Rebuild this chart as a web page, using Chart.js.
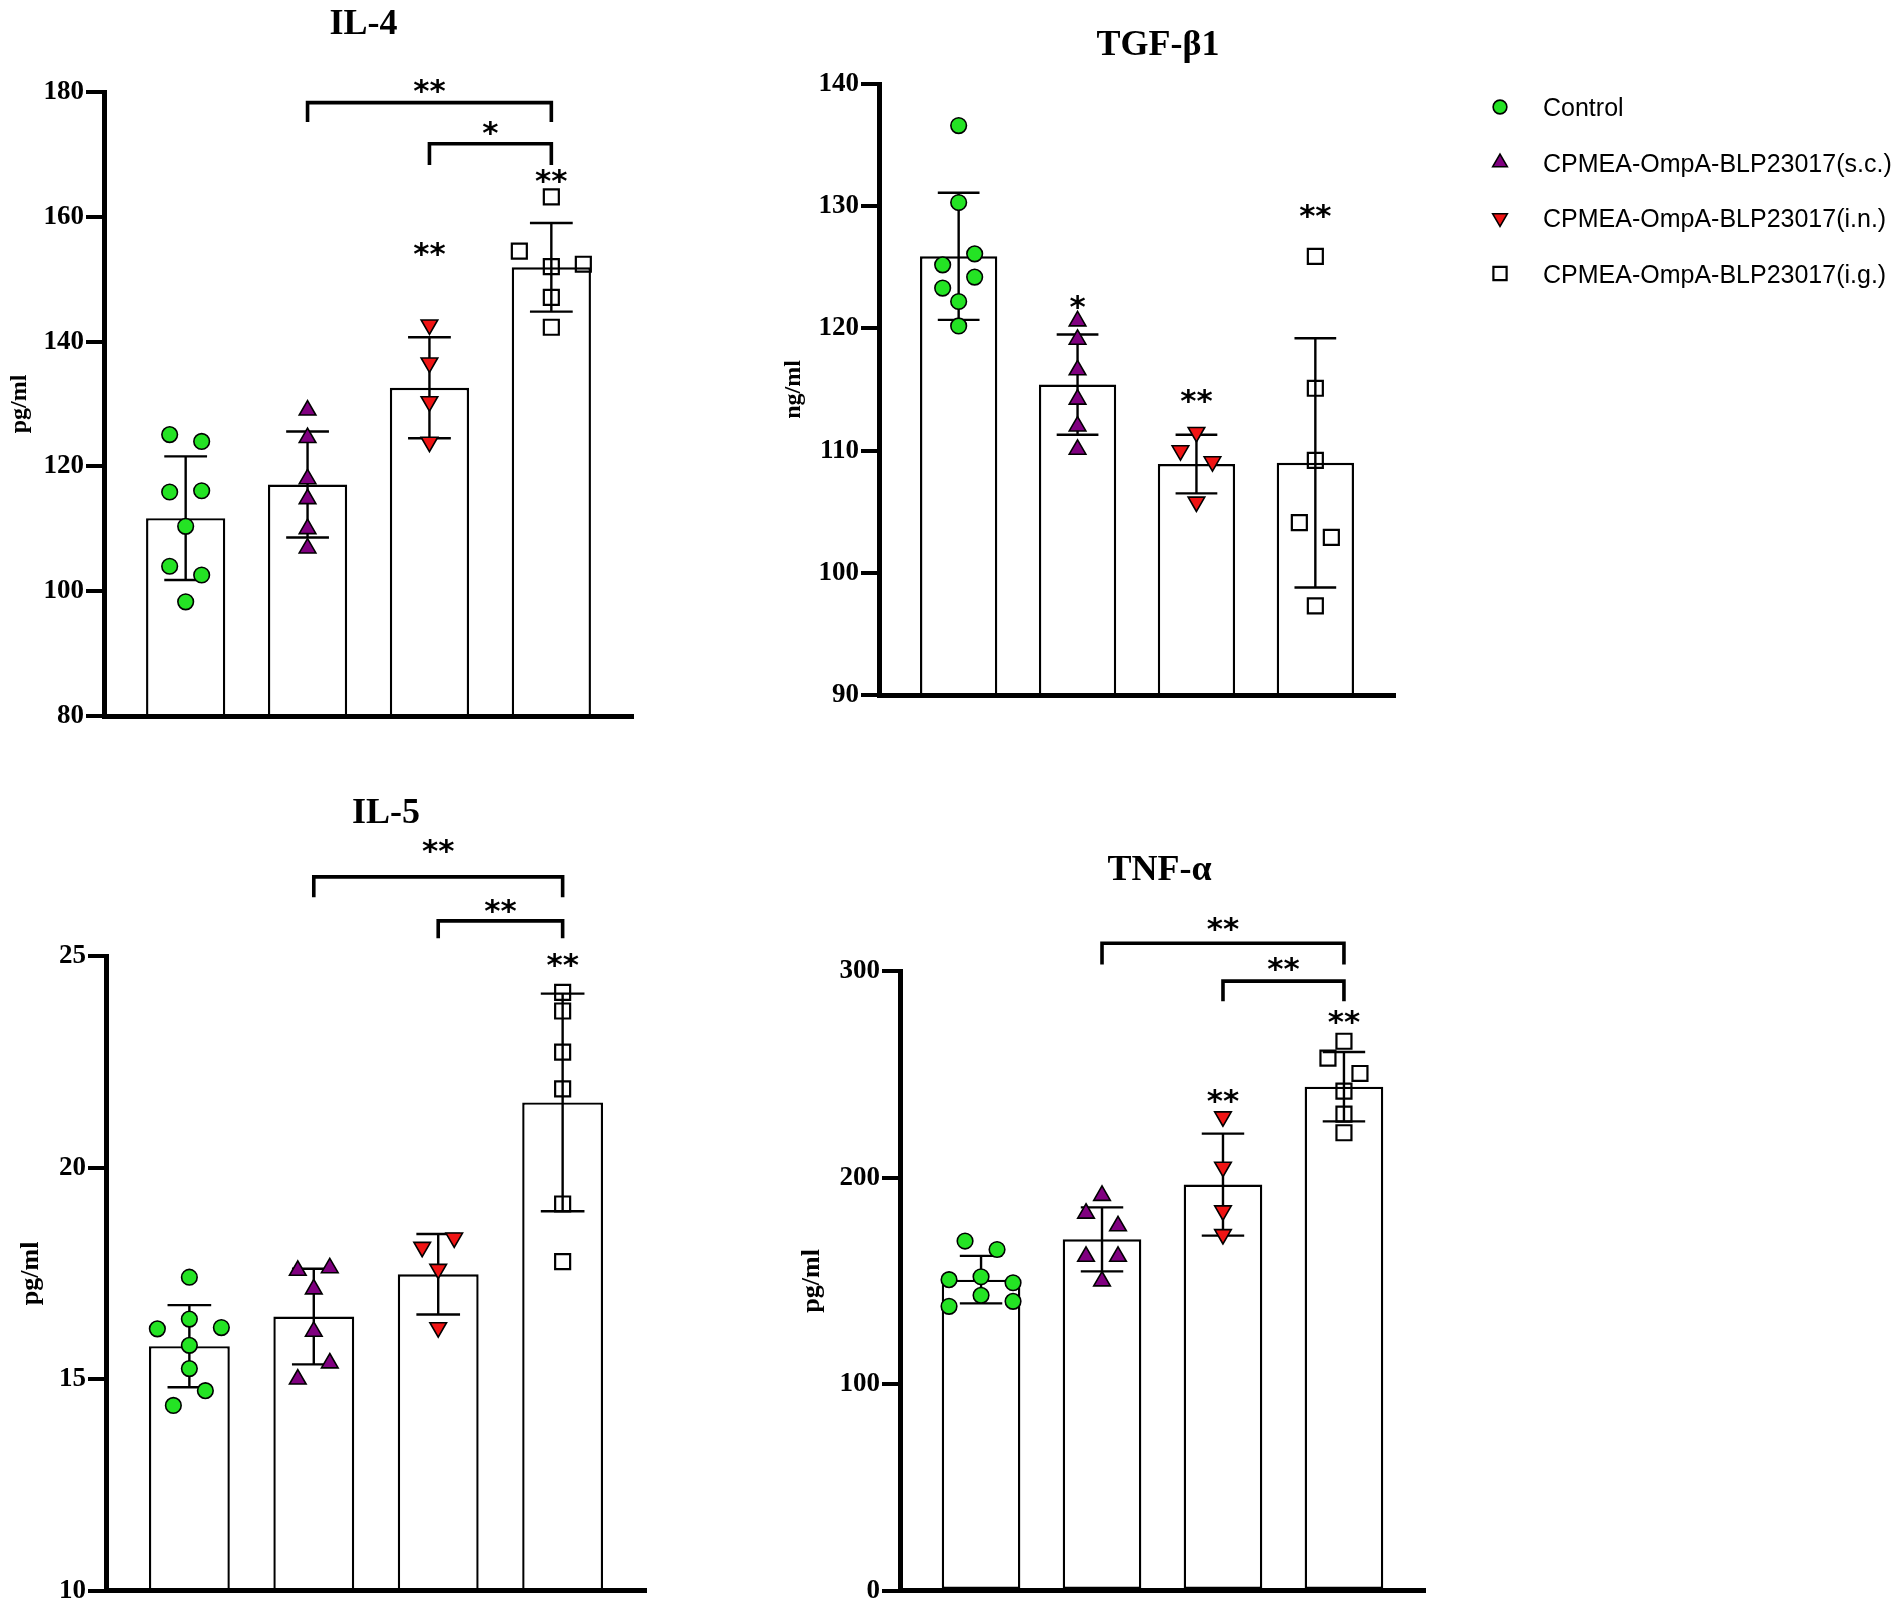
<!DOCTYPE html>
<html lang="en">
<head>
<meta charset="utf-8">
<title>IL-4, TGF-β1, IL-5, TNF-α</title>
<script src="https://cdn.jsdelivr.net/npm/chart.js@4.4.1/dist/chart.umd.min.js"></script>
<style>
html,body{margin:0;padding:0;background:#ffffff;}
#fig{position:relative;width:1902px;height:1609px;overflow:hidden;background:#ffffff;}
#fig canvas{position:absolute;display:block;}
</style>
</head>
<body>
<div id="fig">
<canvas id="c1"></canvas>
<canvas id="c2"></canvas>
<canvas id="c3"></canvas>
<canvas id="c4"></canvas>
</div>
<script>
// ---------------- data ----------------
const groups = ['Control', 'CPMEA-OmpA-BLP23017(s.c.)', 'CPMEA-OmpA-BLP23017(i.n.)', 'CPMEA-OmpA-BLP23017(i.g.)'];
const groupIndex = [0, 1, 2, 3];

// IL-4 (pg/ml)
const il4Control = [125.1, 124.0, 115.9, 116.1, 110.4, 104.0, 102.6, 98.3];
const il4SC = [129.0, 124.6, 118.0, 114.8, 110.0, 106.9];
const il4IN = [142.7, 136.6, 130.4, 123.9];
const il4IG = [163.2, 154.5, 152.0, 152.4, 147.1, 142.3];
const il4Mean = [111.7, 117.1, 132.6, 151.9];
const il4SD = [9.9, 8.5, 8.1, 7.1];
const il4Ticks = [80, 100, 120, 140, 160, 180];
const il4Stars = [[2, 154.8, '**'], [3, 166.5, '**']];
const il4Brackets = [[1, 3, 178.3, 175.2, 180.9, '**'], [2, 3, 171.7, 168.3, 174.1, '*']];

// TGF-β1 (ng/ml)
const tgfControl = [136.6, 130.3, 125.2, 126.1, 123.3, 124.2, 122.2, 120.2];
const tgfSC = [120.6, 119.1, 116.6, 114.2, 112.0, 110.1];
const tgfIN = [111.5, 110.0, 109.1, 105.8];
const tgfIG = [125.9, 115.1, 109.2, 104.1, 102.9, 97.3];
const tgfMean = [125.9, 115.4, 108.9, 109.0];
const tgfSD = [5.2, 4.1, 2.4, 10.2];
const tgfTicks = [90, 100, 110, 120, 130, 140];
const tgfStars = [[1, 122.1, '*'], [2, 114.4, '**'], [3, 129.6, '**']];
const tgfBrackets = [];

// IL-5 (pg/ml)
const il5Control = [17.41, 16.19, 16.42, 16.22, 15.8, 15.25, 14.38, 14.73];
const il5SC = [17.57, 17.63, 17.13, 16.13, 15.0, 15.38];
const il5IN = [18.12, 18.34, 17.6, 16.22];
const il5IG = [24.14, 23.7, 22.73, 21.86, 19.14, 17.78];
const il5Mean = [15.78, 16.48, 17.48, 21.54];
const il5SD = [0.97, 1.13, 0.95, 2.57];
const il5Ticks = [10, 15, 20, 25];
const il5Stars = [[3, 24.89, '**']];
const il5Brackets = [[1, 3, 26.87, 26.39, 27.58, '**'], [2, 3, 25.83, 25.42, 26.17, '**']];

// TNF-α (pg/ml)
const tnfControl = [169.3, 165.2, 150.6, 152.0, 149.1, 137.7, 143.0, 140.1];
const tnfSC = [191.3, 182.7, 176.6, 161.8, 161.8, 149.9];
const tnfIN = [229.5, 205.1, 184.0, 172.5];
const tnfIG = [266.0, 257.8, 250.4, 241.9, 230.7, 221.7];
const tnfMean = [150.6, 170.1, 196.6, 244.0];
const tnfSD = [11.5, 15.5, 24.7, 16.8];
const tnfTicks = [0, 100, 200, 300];
const tnfStars = [[2, 239.1, '**'], [3, 277.6, '**']];
const tnfBrackets = [[1, 3, 313.4, 303.2, 322.6, '**'], [2, 3, 295.1, 285.4, 303.2, '**']];

// ---------------- styles / layout ----------------
const STYLE = {
  pointStyle: ['circle', 'triangle', 'triangle', 'rect'],
  rotation: [0, 0, 180, 0],
  radius: [7.8, 9.6, 9.6, 10.6],
  fill: ['#24e324', '#800080', '#f01414', 'rgba(255,255,255,0)'],
  border: [1.6, 1.6, 1.6, 2.2]
};
const SERIF = '"Liberation Serif", "Times New Roman", serif';
const SANS = '"Liberation Sans", Arial, sans-serif';
const STAR_FONT = 'bold 31px "DejaVu Sans", sans-serif';
const SWARM_OVERLAP = 16.5;   // px: markers closer than this share a row
const SWARM_STEP = 32;        // px between columns inside a row

const panels = [
  { id: 'c1', title: 'IL-4', unit: 'pg/ml', values: [il4Control, il4SC, il4IN, il4IG], mean: il4Mean, sd: il4SD,
    ticks: il4Ticks, stars: il4Stars, brackets: il4Brackets,
    box: { left: 0, top: 0, w: 700, h: 760 }, pad: { left: 0, right: 67, top: 92, bottom: 44 },
    titleDx: -5, titleDy: -70, yTitleSize: 24, yTitlePad: 5.6, legend: false },
  { id: 'c2', title: 'TGF-β1', unit: 'ng/ml', values: [tgfControl, tgfSC, tgfIN, tgfIG], mean: tgfMean, sd: tgfSD,
    ticks: tgfTicks, stars: tgfStars, brackets: tgfBrackets,
    box: { left: 700, top: 0, w: 1202, h: 760 }, pad: { left: 75, right: 507, top: 84, bottom: 65 },
    titleDx: 21, titleDy: -41, yTitleSize: 24, yTitlePad: 4.6, legend: true },
  { id: 'c3', title: 'IL-5', unit: 'pg/ml', values: [il5Control, il5SC, il5IN, il5IG], mean: il5Mean, sd: il5SD,
    ticks: il5Ticks, stars: il5Stars, brackets: il5Brackets,
    box: { left: 0, top: 760, w: 700, h: 849 }, pad: { left: 2, right: 54, top: 196, bottom: 16 },
    titleDx: 10, titleDy: -145.5, yTitleSize: 26, yTitlePad: 13.4, legend: false },
  { id: 'c4', title: 'TNF-α', unit: 'pg/ml', values: [tnfControl, tnfSC, tnfIN, tnfIG], mean: tnfMean, sd: tnfSD,
    ticks: tnfTicks, stars: tnfStars, brackets: tnfBrackets,
    box: { left: 700, top: 760, w: 760, h: 849 }, pad: { left: 96, right: 35, top: 211, bottom: 15 },
    titleDx: -3, titleDy: -103, yTitleSize: 26, yTitlePad: 0.4, legend: false }
];

// ---------------- helpers ----------------
function textCentered(ctx, text, x, yc, font, refGlyph) {
  ctx.font = font;
  ctx.textAlign = 'center';
  ctx.textBaseline = 'alphabetic';
  const m = ctx.measureText(refGlyph || text);
  const asc = m.actualBoundingBoxAscent || 0, desc = m.actualBoundingBoxDescent || 0;
  ctx.fillText(text, x, yc + (asc - desc) / 2);
}

function drawMarker(ctx, g, x, y, scale) {
  const opts = { pointStyle: STYLE.pointStyle[g], rotation: STYLE.rotation[g],
                 radius: STYLE.radius[g] * scale, borderWidth: STYLE.border[g] };
  ctx.save();
  ctx.fillStyle = STYLE.fill[g];
  ctx.strokeStyle = '#000000';
  ctx.lineWidth = STYLE.border[g];
  if (Chart.helpers && Chart.helpers.drawPoint) {
    Chart.helpers.drawPoint(ctx, opts, x, y);
  } else {
    ctx.beginPath(); ctx.arc(x, y, opts.radius, 0, Math.PI * 2); ctx.fill(); ctx.stroke();
  }
  ctx.restore();
}

function swarmX(chart, g, vals) {
  const ys = chart.scales.y, xs = chart.scales.x;
  const pxPerX = Math.abs(xs.getPixelForValue(1) - xs.getPixelForValue(0));
  const rows = [];
  let cur = [];
  vals.forEach((v, k) => {
    const py = ys.getPixelForValue(v);
    if (cur.length && cur.every(o => Math.abs(o.py - py) < SWARM_OVERLAP)) {
      cur.push({ k, py });
    } else {
      if (cur.length) rows.push(cur);
      cur = [{ k, py }];
    }
  });
  if (cur.length) rows.push(cur);
  const out = new Array(vals.length);
  rows.forEach(r => r.forEach((o, j) => {
    out[o.k] = groupIndex[g] + (j - (r.length - 1) / 2) * SWARM_STEP / pxPerX;
  }));
  return out;
}

function makePlugin(panel) {
  return {
    id: 'figure_' + panel.id,
    afterDatasetDraw(chart, args) {
      if (args.index !== 0) return;
      const ctx = chart.ctx, ys = chart.scales.y;
      const meta = chart.getDatasetMeta(0);
      ctx.save();
      ctx.strokeStyle = '#000000';
      ctx.lineWidth = 2.4;
      panel.mean.forEach((m, i) => {
        const bar = meta.data[i];
        const x = bar.x, half = bar.width * 0.27;
        const yt = ys.getPixelForValue(m + panel.sd[i]);
        const yb = ys.getPixelForValue(m - panel.sd[i]);
        ctx.beginPath();
        ctx.moveTo(x, yt); ctx.lineTo(x, yb);
        ctx.moveTo(x - half, yt); ctx.lineTo(x + half, yt);
        ctx.moveTo(x - half, yb); ctx.lineTo(x + half, yb);
        ctx.stroke();
      });
      ctx.restore();
    },
    afterDraw(chart) {
      const ctx = chart.ctx, xs = chart.scales.x, ys = chart.scales.y, area = chart.chartArea;
      ctx.save();
      ctx.fillStyle = '#000000';
      ctx.strokeStyle = '#000000';
      // significance brackets
      ctx.lineWidth = 3.6;
      ctx.lineJoin = 'miter';
      ctx.lineCap = 'butt';
      panel.brackets.forEach(b => {
        const xa = xs.getPixelForValue(groupIndex[b[0]]), xb = xs.getPixelForValue(groupIndex[b[1]]);
        const yl = ys.getPixelForValue(b[2]), yg = ys.getPixelForValue(b[3]);
        ctx.beginPath();
        ctx.moveTo(xa, yg); ctx.lineTo(xa, yl); ctx.lineTo(xb, yl); ctx.lineTo(xb, yg);
        ctx.stroke();
        textCentered(ctx, b[5], (xa + xb) / 2, ys.getPixelForValue(b[4]), STAR_FONT, '*');
      });
      // stars above groups
      panel.stars.forEach(s => {
        textCentered(ctx, s[2], xs.getPixelForValue(groupIndex[s[0]]), ys.getPixelForValue(s[1]), STAR_FONT, '*');
      });
      // panel title
      textCentered(ctx, panel.title, (area.left + area.right) / 2 + panel.titleDx, area.top + panel.titleDy,
                   'bold 36px ' + SERIF, 'H');
      // legend
      if (panel.legend) {
        const mx = area.right + 105, tx = area.right + 148;
        groups.forEach((name, g) => {
          const y = area.top + 23 + g * 55.5;
          drawMarker(ctx, g, mx, y, 0.88);
          ctx.fillStyle = '#000000';
          ctx.font = '25px ' + SANS;
          ctx.textAlign = 'left';
          ctx.textBaseline = 'alphabetic';
          const m = ctx.measureText('C');
          ctx.fillText(name, tx, y + m.actualBoundingBoxAscent / 2);
        });
      }
      ctx.restore();
    }
  };
}

function buildPanel(panel) {
  const cv = document.getElementById(panel.id);
  cv.width = panel.box.w; cv.height = panel.box.h;
  cv.style.left = panel.box.left + 'px'; cv.style.top = panel.box.top + 'px';
  cv.style.width = panel.box.w + 'px'; cv.style.height = panel.box.h + 'px';

  const datasets = [{
    type: 'bar', label: 'Mean',
    data: panel.mean.map((m, i) => ({ x: groupIndex[i], y: m })),
    backgroundColor: '#ffffff', borderColor: '#000000', borderWidth: 2.4, borderSkipped: false,
    barPercentage: 0.65, categoryPercentage: 1, order: 10
  }];
  panel.values.forEach((vals, g) => datasets.push({
    type: 'scatter', label: groups[g],
    data: vals.map(v => ({ x: groupIndex[g], y: v })),
    pointStyle: STYLE.pointStyle[g], rotation: STYLE.rotation[g],
    pointRadius: STYLE.radius[g], pointHoverRadius: STYLE.radius[g],
    backgroundColor: STYLE.fill[g], borderColor: '#000000', borderWidth: STYLE.border[g],
    showLine: false, clip: false, order: 0
  }));

  const yMin = panel.ticks[0], yMax = panel.ticks[panel.ticks.length - 1];
  const chart = new Chart(cv, {
    type: 'bar',
    data: { datasets },
    options: {
      responsive: false, animation: false, devicePixelRatio: 1, events: [],
      layout: { padding: panel.pad },
      plugins: { legend: { display: false }, tooltip: { enabled: false }, title: { display: false } },
      scales: {
        x: {
          type: 'linear', min: -0.67, max: 3.67, offset: false,
          grid: { display: false },
          border: { display: true, color: '#000000', width: 5, z: 2 },
          ticks: { display: false },
          afterBuildTicks: s => { s.ticks = groupIndex.map(v => ({ value: v })); },
          afterFit: s => { s.height = 0; }
        },
        y: {
          type: 'linear', min: yMin, max: yMax,
          afterBuildTicks: s => { s.ticks = panel.ticks.map(v => ({ value: v })); },
          afterFit: s => { s.width = 104; },
          grid: { display: true, drawOnChartArea: false, drawTicks: true, tickLength: 18, color: '#000000', lineWidth: 4 },
          border: { display: true, color: '#000000', width: 5, z: 2 },
          ticks: { color: '#000000', padding: 2, autoSkip: false,
                   font: { family: SERIF, weight: 'bold', size: 27 }, callback: v => String(v) },
          title: { display: true, text: panel.unit, color: '#000000',
                   font: { family: SERIF, weight: 'bold', size: panel.yTitleSize },
                   padding: { top: panel.yTitlePad, bottom: 0 } }
        }
      }
    },
    plugins: [makePlugin(panel)]
  });

  panel.values.forEach((vals, g) => {
    const xsArr = swarmX(chart, g, vals);
    chart.data.datasets[g + 1].data.forEach((pt, k) => { pt.x = xsArr[k]; });
  });
  chart.update('none');
  return chart;
}

panels.forEach(buildPanel);
</script>
</body>
</html>
